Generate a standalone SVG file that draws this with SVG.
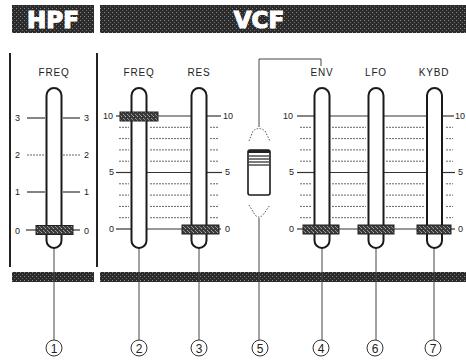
<svg xmlns="http://www.w3.org/2000/svg" width="466" height="360" viewBox="0 0 466 360">
<defs>
<pattern id="tex" width="4" height="4" patternUnits="userSpaceOnUse">
<rect width="4" height="4" fill="#2b2b2b"/>
<rect x="0" y="0" width="1" height="1" fill="#8a8a8a"/>
<rect x="2" y="2" width="1" height="1" fill="#6a6a6a"/>
</pattern>
<pattern id="tex2" width="4" height="4" patternUnits="userSpaceOnUse">
<rect width="4" height="4" fill="#3a3a3a"/>
<rect x="1" y="0" width="1" height="1" fill="#b0b0b0"/>
<rect x="3" y="2" width="1" height="1" fill="#9a9a9a"/>
<rect x="0" y="3" width="1" height="1" fill="#888"/>
</pattern>
<style>
.hdr{fill:url(#tex)}
.htxt{font-family:"DejaVu Sans","Liberation Sans",Arial,sans-serif;font-weight:bold;fill:#fff;stroke:#fff;stroke-width:1.2}
.lbl{font-family:"Liberation Sans",Arial,sans-serif;font-size:10px;fill:#222;letter-spacing:0.8px}
.num{font-family:"Liberation Sans",Arial,sans-serif;font-size:9px;fill:#222}
.slot{fill:#fff;stroke:#1a1a1a;stroke-width:2}
.knob{fill:url(#tex2);stroke:#222;stroke-width:1}
.maj{stroke:#333;stroke-width:1.2}
.min{stroke:#666;stroke-width:1;stroke-dasharray:2 1}
.wire{stroke:#444;stroke-width:1;fill:none}
.dot{stroke:#555;stroke-width:1;fill:none;stroke-dasharray:1.5 1.5}
.circ{fill:#fff;stroke:#333;stroke-width:1}
.cnum{font-family:"Liberation Sans",Arial,sans-serif;font-size:12px;fill:#222;text-anchor:middle}
.frame{stroke:#222;stroke-width:2}
</style>
</defs>

<!-- headers -->
<g id="hdr-hpf">
<rect class="hdr" x="12" y="5" width="82" height="28"/>
<text class="htxt" x="53" y="28" font-size="23" text-anchor="middle">HPF</text>
</g>
<g id="hdr-vcf">
<rect class="hdr" x="100" y="5" width="366" height="28"/>
<text class="htxt" x="259" y="28" font-size="23" text-anchor="middle">VCF</text>
</g>

<!-- frame lines and bottom bar -->
<g id="frame">
<line class="frame" x1="10" y1="53" x2="10" y2="267"/>
<line class="frame" x1="97" y1="53" x2="97" y2="267"/>
<rect class="hdr" x="12" y="272" width="82" height="10"/>
<rect class="hdr" x="100" y="272" width="366" height="10"/>
</g>

<!-- scales -->
<g id="scale-hpf">
<text class="num" x="15" y="121">3</text>
<text class="num" x="15" y="158">2</text>
<text class="num" x="15" y="195">1</text>
<text class="num" x="15" y="234">0</text>
<line class="maj" x1="27" y1="118" x2="45" y2="118"/>
<line class="min" x1="27" y1="155" x2="45" y2="155"/>
<line class="maj" x1="27" y1="192" x2="45" y2="192"/>
<line class="maj" x1="26" y1="230" x2="45" y2="230"/>
<line class="maj" x1="63" y1="118" x2="80" y2="118"/>
<line class="min" x1="63" y1="155" x2="80" y2="155"/>
<line class="maj" x1="63" y1="192" x2="80" y2="192"/>
<line class="maj" x1="63" y1="230" x2="80" y2="230"/>
<text class="num" x="84" y="121">3</text>
<text class="num" x="84" y="158">2</text>
<text class="num" x="84" y="195">1</text>
<text class="num" x="84" y="234">0</text>
</g>

<g id="scale-freq-res">
<text class="num" x="103" y="119">10</text>
<text class="num" x="109" y="175">5</text>
<text class="num" x="109" y="232">0</text>
<line class="maj" x1="116" y1="116" x2="131" y2="116"/>
<line class="min" x1="119" y1="127.3" x2="129" y2="127.3"/>
<line class="min" x1="119" y1="138.6" x2="129" y2="138.6"/>
<line class="min" x1="119" y1="149.9" x2="129" y2="149.9"/>
<line class="min" x1="119" y1="161.2" x2="129" y2="161.2"/>
<line class="maj" x1="116" y1="172.5" x2="131" y2="172.5"/>
<line class="min" x1="119" y1="183.8" x2="129" y2="183.8"/>
<line class="min" x1="119" y1="195.1" x2="129" y2="195.1"/>
<line class="min" x1="119" y1="206.4" x2="129" y2="206.4"/>
<line class="min" x1="119" y1="217.7" x2="129" y2="217.7"/>
<line class="maj" x1="116" y1="229" x2="131" y2="229"/>

<line class="maj" x1="147" y1="116" x2="191" y2="116"/>
<line class="min" x1="150" y1="127.3" x2="190" y2="127.3"/>
<line class="min" x1="150" y1="138.6" x2="190" y2="138.6"/>
<line class="min" x1="150" y1="149.9" x2="190" y2="149.9"/>
<line class="min" x1="150" y1="161.2" x2="190" y2="161.2"/>
<line class="maj" x1="147" y1="172.5" x2="191" y2="172.5"/>
<line class="min" x1="150" y1="183.8" x2="190" y2="183.8"/>
<line class="min" x1="150" y1="195.1" x2="190" y2="195.1"/>
<line class="min" x1="150" y1="206.4" x2="190" y2="206.4"/>
<line class="min" x1="150" y1="217.7" x2="190" y2="217.7"/>
<line class="maj" x1="147" y1="229" x2="191" y2="229"/>

<line class="maj" x1="207" y1="116" x2="221" y2="116"/>
<line class="min" x1="210" y1="127.3" x2="219" y2="127.3"/>
<line class="min" x1="210" y1="138.6" x2="219" y2="138.6"/>
<line class="min" x1="210" y1="149.9" x2="219" y2="149.9"/>
<line class="min" x1="210" y1="161.2" x2="219" y2="161.2"/>
<line class="maj" x1="207" y1="172.5" x2="222" y2="172.5"/>
<line class="min" x1="210" y1="183.8" x2="219" y2="183.8"/>
<line class="min" x1="210" y1="195.1" x2="219" y2="195.1"/>
<line class="min" x1="210" y1="206.4" x2="219" y2="206.4"/>
<line class="min" x1="210" y1="217.7" x2="219" y2="217.7"/>
<line class="maj" x1="207" y1="229" x2="221" y2="229"/>
<text class="num" x="223" y="119">10</text>
<text class="num" x="225" y="175">5</text>
<text class="num" x="225" y="232">0</text>
</g>

<g id="scale-mod">
<text class="num" x="283" y="119">10</text>
<text class="num" x="289" y="175">5</text>
<text class="num" x="289" y="232">0</text>
<line class="maj" x1="297" y1="116" x2="314" y2="116"/>
<line class="min" x1="300" y1="127.3" x2="312" y2="127.3"/>
<line class="min" x1="300" y1="138.6" x2="312" y2="138.6"/>
<line class="min" x1="300" y1="149.9" x2="312" y2="149.9"/>
<line class="min" x1="300" y1="161.2" x2="312" y2="161.2"/>
<line class="maj" x1="297" y1="172.5" x2="314" y2="172.5"/>
<line class="min" x1="300" y1="183.8" x2="312" y2="183.8"/>
<line class="min" x1="300" y1="195.1" x2="312" y2="195.1"/>
<line class="min" x1="300" y1="206.4" x2="312" y2="206.4"/>
<line class="min" x1="300" y1="217.7" x2="312" y2="217.7"/>
<line class="maj" x1="297" y1="229" x2="314" y2="229"/>

<line class="maj" x1="330" y1="116" x2="368" y2="116"/>
<line class="min" x1="332" y1="127.3" x2="366" y2="127.3"/>
<line class="min" x1="332" y1="138.6" x2="366" y2="138.6"/>
<line class="min" x1="332" y1="149.9" x2="366" y2="149.9"/>
<line class="min" x1="332" y1="161.2" x2="366" y2="161.2"/>
<line class="maj" x1="330" y1="172.5" x2="368" y2="172.5"/>
<line class="min" x1="332" y1="183.8" x2="366" y2="183.8"/>
<line class="min" x1="332" y1="195.1" x2="366" y2="195.1"/>
<line class="min" x1="332" y1="206.4" x2="366" y2="206.4"/>
<line class="min" x1="332" y1="217.7" x2="366" y2="217.7"/>
<line class="maj" x1="330" y1="229" x2="368" y2="229"/>

<line class="maj" x1="384" y1="116" x2="427" y2="116"/>
<line class="min" x1="386" y1="127.3" x2="425" y2="127.3"/>
<line class="min" x1="386" y1="138.6" x2="425" y2="138.6"/>
<line class="min" x1="386" y1="149.9" x2="425" y2="149.9"/>
<line class="min" x1="386" y1="161.2" x2="425" y2="161.2"/>
<line class="maj" x1="384" y1="172.5" x2="427" y2="172.5"/>
<line class="min" x1="386" y1="183.8" x2="425" y2="183.8"/>
<line class="min" x1="386" y1="195.1" x2="425" y2="195.1"/>
<line class="min" x1="386" y1="206.4" x2="425" y2="206.4"/>
<line class="min" x1="386" y1="217.7" x2="425" y2="217.7"/>
<line class="maj" x1="384" y1="229" x2="427" y2="229"/>

<line class="maj" x1="443" y1="116" x2="454" y2="116"/>
<line class="min" x1="446" y1="127.3" x2="453" y2="127.3"/>
<line class="min" x1="446" y1="138.6" x2="453" y2="138.6"/>
<line class="min" x1="446" y1="149.9" x2="453" y2="149.9"/>
<line class="min" x1="446" y1="161.2" x2="453" y2="161.2"/>
<line class="maj" x1="443" y1="172.5" x2="455" y2="172.5"/>
<line class="min" x1="446" y1="183.8" x2="453" y2="183.8"/>
<line class="min" x1="446" y1="195.1" x2="453" y2="195.1"/>
<line class="min" x1="446" y1="206.4" x2="453" y2="206.4"/>
<line class="min" x1="446" y1="217.7" x2="453" y2="217.7"/>
<line class="maj" x1="443" y1="229" x2="455" y2="229"/>
<text class="num" x="455" y="119">10</text>
<text class="num" x="458" y="175">5</text>
<text class="num" x="458" y="232">0</text>
</g>

<!-- connectors -->
<g id="connectors">
<line class="wire" x1="54" y1="248" x2="54" y2="340"/>
<line class="wire" x1="139" y1="248" x2="139" y2="340"/>
<line class="wire" x1="199" y1="248" x2="199" y2="340"/>
<line class="wire" x1="322" y1="248" x2="322" y2="340"/>
<line class="wire" x1="376" y1="248" x2="376" y2="340"/>
<line class="wire" x1="434" y1="248" x2="434" y2="340"/>
<polyline class="wire" points="259,127 259,59 321,59 321,66"/>
<line class="wire" x1="259" y1="218" x2="259" y2="340"/>
</g>

<!-- sliders -->
<g id="hpf-freq">
<text class="lbl" x="54" y="76" text-anchor="middle">FREQ</text>
<rect class="slot" x="46.5" y="88" width="15" height="160" rx="7.5"/>
<rect class="knob" x="36" y="225.5" width="37" height="9"/>
<circle class="circ" cx="54" cy="348" r="8"/>
<text class="cnum" x="54" y="352.5">1</text>
</g>
<g id="vcf-freq">
<text class="lbl" x="139" y="76" text-anchor="middle">FREQ</text>
<rect class="slot" x="131.5" y="88" width="15" height="160" rx="7.5"/>
<rect class="knob" x="120" y="112" width="38" height="9"/>
<circle class="circ" cx="139" cy="348" r="8"/>
<text class="cnum" x="139" y="352.5">2</text>
</g>
<g id="vcf-res">
<text class="lbl" x="199" y="76" text-anchor="middle">RES</text>
<rect class="slot" x="191.5" y="88" width="15" height="160" rx="7.5"/>
<rect class="knob" x="182" y="225" width="37" height="9"/>
<circle class="circ" cx="199" cy="348" r="8"/>
<text class="cnum" x="199" y="352.5">3</text>
</g>
<g id="vcf-switch">
<path class="dot" d="M249,141 L253,131 Q259,126 265,131 L270,141"/>
<path class="dot" d="M249,205 L255,215 Q259,219 263,215 L270,205"/>
<rect x="248" y="150" width="22" height="45" rx="2" fill="#fff" stroke="#1a1a1a" stroke-width="1.6"/>
<rect x="248" y="150" width="22" height="3" fill="#222"/>
<line x1="249" y1="156" x2="269" y2="156" stroke="#222" stroke-width="1.2"/>
<line x1="249" y1="159" x2="269" y2="159" stroke="#222" stroke-width="1.2"/>
<line x1="249" y1="162" x2="269" y2="162" stroke="#222" stroke-width="1.2"/>
<line x1="249" y1="165" x2="269" y2="165" stroke="#222" stroke-width="1.2"/>
<circle class="circ" cx="260" cy="348" r="8"/>
<text class="cnum" x="260" y="352.5">5</text>
</g>
<g id="vcf-env">
<text class="lbl" x="322" y="76" text-anchor="middle">ENV</text>
<rect class="slot" x="314.5" y="88" width="15" height="160" rx="7.5"/>
<rect class="knob" x="303" y="225" width="36" height="9"/>
<circle class="circ" cx="321" cy="348" r="8"/>
<text class="cnum" x="321" y="352.5">4</text>
</g>
<g id="vcf-lfo">
<text class="lbl" x="376" y="76" text-anchor="middle">LFO</text>
<rect class="slot" x="368.5" y="88" width="15" height="160" rx="7.5"/>
<rect class="knob" x="358" y="225" width="36" height="9"/>
<circle class="circ" cx="375" cy="348" r="8"/>
<text class="cnum" x="375" y="352.5">6</text>
</g>
<g id="vcf-kybd">
<text class="lbl" x="434" y="76" text-anchor="middle">KYBD</text>
<rect class="slot" x="427" y="88" width="15" height="160" rx="7.5"/>
<rect class="knob" x="417" y="225" width="34" height="9"/>
<circle class="circ" cx="433" cy="348" r="8"/>
<text class="cnum" x="433" y="352.5">7</text>
</g>
</svg>
